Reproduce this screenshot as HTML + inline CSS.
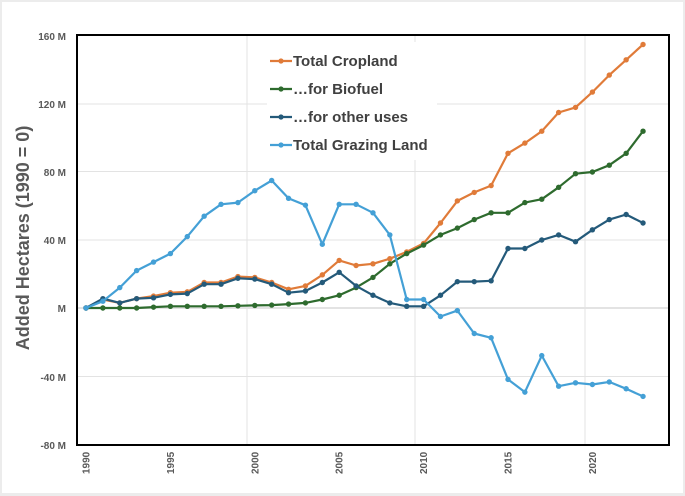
<!DOCTYPE html>
<html><head><meta charset="utf-8"><style>
html,body{margin:0;padding:0;background:#ececec;}
#c{position:absolute;left:2px;top:2px;width:681px;height:491px;background:#fff;}
svg{position:absolute;left:0;top:0;}
text{font-family:"Liberation Sans",Arial,sans-serif;font-weight:bold;}
</style></head><body>
<div id="c"></div>
<svg id="s" width="685" height="496" xmlns="http://www.w3.org/2000/svg">
<g stroke="#e3e3e3" stroke-width="1">
<line x1="77" y1="104" x2="669" y2="104"/>
<line x1="77" y1="171.5" x2="669" y2="171.5"/>
<line x1="77" y1="240" x2="669" y2="240"/>
<line x1="77" y1="308" x2="669" y2="308" stroke-width="2"/>
<line x1="77" y1="376.5" x2="669" y2="376.5"/>
<line x1="247" y1="35" x2="247" y2="445"/>
<line x1="415" y1="35" x2="415" y2="445"/>
<line x1="585" y1="35" x2="585" y2="445"/>
</g>
<g font-size="10" fill="#595959" text-anchor="end">
<text x="66" y="40">160 M</text>
<text x="66" y="108">120 M</text>
<text x="66" y="176">80 M</text>
<text x="66" y="244">40 M</text>
<text x="66" y="312">M</text>
<text x="66" y="381">-40 M</text>
<text x="66" y="449">-80 M</text>
</g>
<text transform="translate(29,238) rotate(-90)" font-size="18" fill="#595959" text-anchor="middle">Added Hectares (1990 = 0)</text>
<g id="xl" font-size="10" fill="#595959"></g>
<g id="series"></g>
<rect x="77" y="35" width="592" height="410" fill="none" stroke="#000" stroke-width="2"/>
<rect x="267" y="42" width="170" height="118" fill="#fff"/>
<g font-size="15" fill="#404040">
<line x1="270" y1="61" x2="292" y2="61" stroke="#e07b39" stroke-width="2.2"/><circle cx="281" cy="61" r="2.6" fill="#e07b39"/>
<text x="293" y="66">Total Cropland</text>
<line x1="270" y1="89" x2="292" y2="89" stroke="#2e6b2e" stroke-width="2.2"/><circle cx="281" cy="89" r="2.6" fill="#2e6b2e"/>
<text x="293" y="94">…for Biofuel</text>
<line x1="270" y1="117" x2="292" y2="117" stroke="#245a7a" stroke-width="2.2"/><circle cx="281" cy="117" r="2.6" fill="#245a7a"/>
<text x="293" y="122">…for other uses</text>
<line x1="270" y1="145" x2="292" y2="145" stroke="#44a0d6" stroke-width="2.2"/><circle cx="281" cy="145" r="2.6" fill="#44a0d6"/>
<text x="293" y="150">Total Grazing Land</text>
</g>
</svg>
<script>
var ns="http://www.w3.org/2000/svg";
function X(i){return 86+i*16.88;}function Y(v){return 308-v*1.7;}
var D=[
["#44a0d6",[0,4,12,22,27,32,42,54,61,62,69,75,64.5,60.5,37.5,61,61,56,43,5,5,-5,-1.5,-15,-17.5,-42,-49.5,-28,-46,-44,-45,-43.5,-47.5,-52]],
["#2e6b2e",[0,0,0,0,0.5,1,1,1,1,1.3,1.5,1.7,2.3,3,5,7.5,12,18,26,32,37,43,47,52,56,56,62,64,71,79,80,84,91,104]],
["#e07b39",[0,5,3,5.5,7,9,9.5,15,15,18.5,18,15,11,13,19.5,28,25,26,29,33,38,50,63,68,72,91,97,104,115,118,127,137,146,155]],
["#245a7a",[0,5.5,3,5.5,6,8,8.5,14,14,17.5,17,14,9,10,15,21,13,7.5,3,1,1,7.5,15.5,15.5,16,35,35,40,43,39,46,52,55,50]]];
var g=document.getElementById("series");
[2,1,3,0].forEach(function(k){var c=D[k][0],d=D[k][1],p="";
d.forEach(function(v,i){p+=(i?"L":"M")+X(i).toFixed(1)+" "+Y(v).toFixed(1);});
var pa=document.createElementNS(ns,"path");pa.setAttribute("d",p);pa.setAttribute("fill","none");pa.setAttribute("stroke",c);pa.setAttribute("stroke-width","2.2");pa.setAttribute("stroke-linejoin","round");g.appendChild(pa);
d.forEach(function(v,i){var ci=document.createElementNS(ns,"circle");ci.setAttribute("cx",X(i));ci.setAttribute("cy",Y(v));ci.setAttribute("r","2.7");ci.setAttribute("fill",c);g.appendChild(ci);});});
var xl=document.getElementById("xl");
for(var y=1990;y<=2020;y+=5){var t=document.createElementNS(ns,"text");var x=X(y-1990)+3.5;
t.setAttribute("transform","translate("+x+",474) rotate(-90)");t.textContent=y;xl.appendChild(t);}
</script>
</body></html>
